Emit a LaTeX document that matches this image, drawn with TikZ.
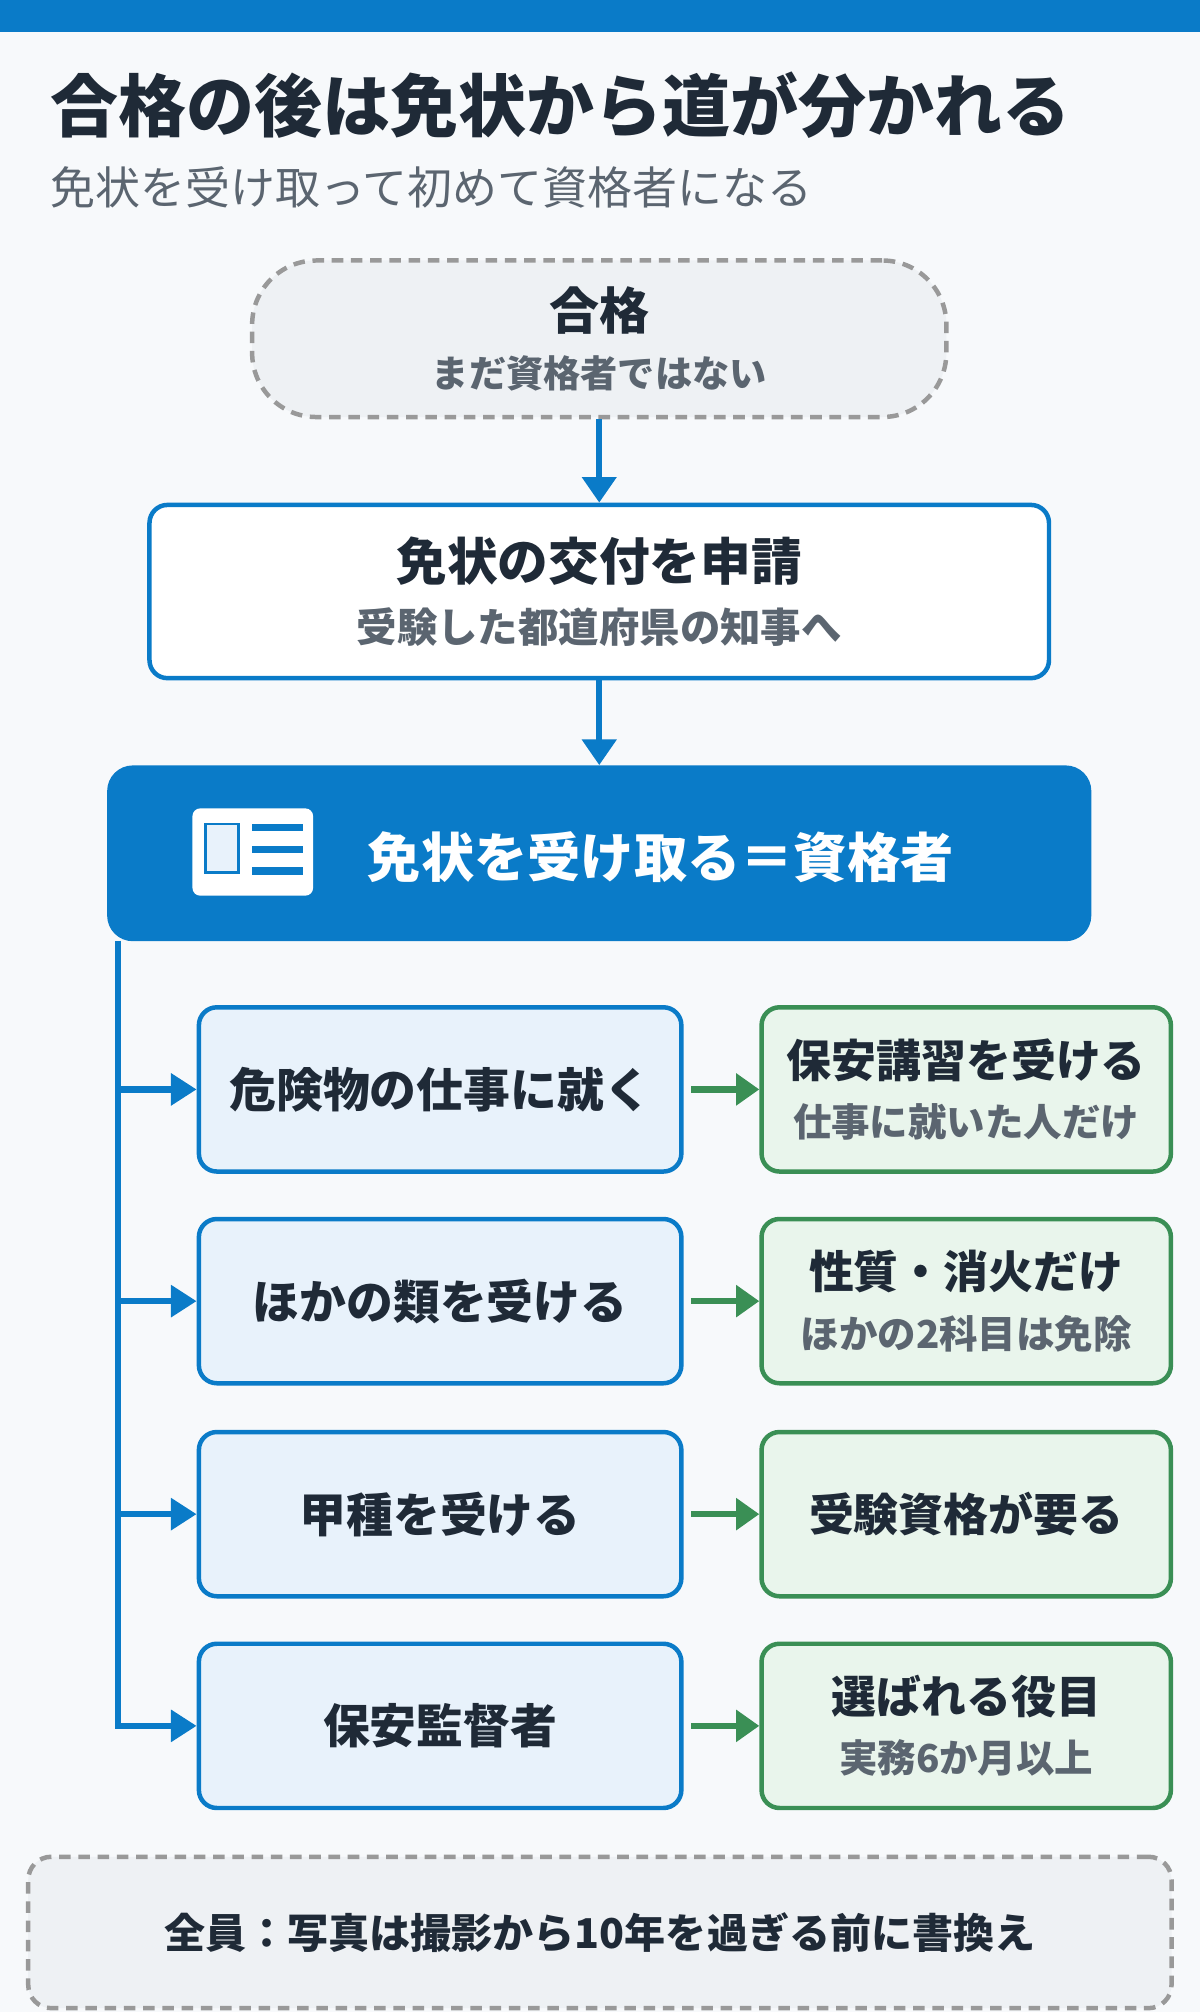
\documentclass[tikz,border=0pt]{standalone}
\usepackage{fontspec}
\setmainfont{Noto Sans CJK JP}
\usetikzlibrary{arrows.meta,positioning}
\definecolor{mainblue}{HTML}{0A7BC8}
\definecolor{lightblue}{HTML}{E8F2FB}
\definecolor{darkgreen}{HTML}{3A8F55}
\definecolor{lightgreen}{HTML}{E9F5EC}
\definecolor{textdark}{HTML}{1F2A37}
\definecolor{textgray}{HTML}{5B6570}
\definecolor{bggray}{HTML}{EEF1F4}
\definecolor{pagebg}{HTML}{F7F9FB}
\newcommand{\fs}[1]{\fontsize{#1}{#1}\selectfont}
\newcommand{\twoline}[4]{{\fs{#3}\bfseries #1}\\[16pt]{\fs{#4}\bfseries\color{textgray}#2}}
\begin{document}
\begin{tikzpicture}[x=1pt,y=-1pt,
  box/.style = {draw, rounded corners=14pt, line width=3.5pt, align=center, text=textdark},
  stepbox/.style = {box, draw=mainblue, fill=lightblue, minimum width=376pt, minimum height=128pt},
  resbox/.style = {box, draw=darkgreen, fill=lightgreen, minimum width=319pt, minimum height=128pt},
  flow/.style = {draw=mainblue, line width=5pt, -{Triangle[length=20pt,width=26pt]}},
  branch/.style = {draw=mainblue, line width=5pt, -{Triangle[length=20pt,width=24pt]}},
  gflow/.style = {draw=darkgreen, line width=5pt, -{Triangle[length=18pt,width=24pt]}}]
  \fill[pagebg] (0,0) rectangle (935,1568);
  \fill[mainblue] (0,0) rectangle (935,25);
  \node[anchor=west, text=textdark, font=\fs{53}\bfseries] (title) at (36,82) {合格の後は免状から道が分かれる};
  \node[anchor=west, text=textgray, font=\fs{35}] (subtitle) at (36,146) {免状を受け取って初めて資格者になる};

  \node[box, draw=gray!80, dashed, dash pattern=on 9pt off 6pt, fill=bggray, rounded corners=50pt,
    minimum width=541pt, minimum height=122pt] (pass) at (467,264) {\twoline{合格}{まだ資格者ではない}{39}{29}};
  \node[box, draw=mainblue, fill=white, minimum width=701pt, minimum height=135pt] (apply) at (467,461)
    {\twoline{免状の交付を申請}{受験した都道府県の知事へ}{39.5}{31.5}};
  \node[fill=mainblue, rounded corners=20pt, minimum width=767pt, minimum height=137pt] (get) at (467,665) {};
  \node[text=white, font=\fs{41.5}\bfseries] (gettext) at (515,668) {免状を受け取る＝資格者};
  % icon
  \fill[white, rounded corners=6pt] (150,630) rectangle (244,698);
  \filldraw[fill=lightblue, draw=mainblue, line width=2pt] (160,642) rectangle (186,680);
  \foreach \yy in {645,662,679} \fill[mainblue] (196,\yy-3) rectangle (236,\yy+3);

  \draw[flow] (pass) -- (apply);
  \draw[flow] (apply) -- (get);

  \node[stepbox] (s1) at (343,849) {\fs{36.5}\bfseries 危険物の仕事に就く};
  \node[stepbox] (s2) at (343,1014) {\fs{36.5}\bfseries ほかの類を受ける};
  \node[stepbox] (s3) at (343,1180) {\fs{36.5}\bfseries 甲種を受ける};
  \node[stepbox] (s4) at (343,1345) {\fs{36.5}\bfseries 保安監督者};
  \node[resbox] (r1) at (753,849) {\twoline{保安講習を受ける}{仕事に就いた人だけ}{35}{30}};
  \node[resbox] (r2) at (753,1014) {\twoline{性質・消火だけ}{ほかの2科目は免除}{35}{30}};
  \node[resbox] (r3) at (753,1180) {\fs{35}\bfseries 受験資格が要る};
  \node[resbox] (r4) at (753,1345) {\twoline{選ばれる役目}{実務6か月以上}{35}{30}};

  \coordinate (trunk) at (92,733);
  \draw[draw=mainblue, line width=5pt] (trunk) -- (92,1347.5);
  \foreach \i in {1,...,4} {
    \draw[branch] (s\i.west -| trunk) -- (s\i.west);
    \draw[gflow] (s\i.east) ++(6,0) coordinate (g\i) (g\i) -- (r\i.west);
  }

  \node[box, draw=gray!80, dashed, dash pattern=on 9pt off 6pt, fill=bggray, rounded corners=18pt,
    minimum width=891pt, minimum height=118pt, font=\fs{32}\bfseries] (note) at (467.5,1506)
    {全員：写真は撮影から10年を過ぎる前に書換え};
\end{tikzpicture}
\end{document}
